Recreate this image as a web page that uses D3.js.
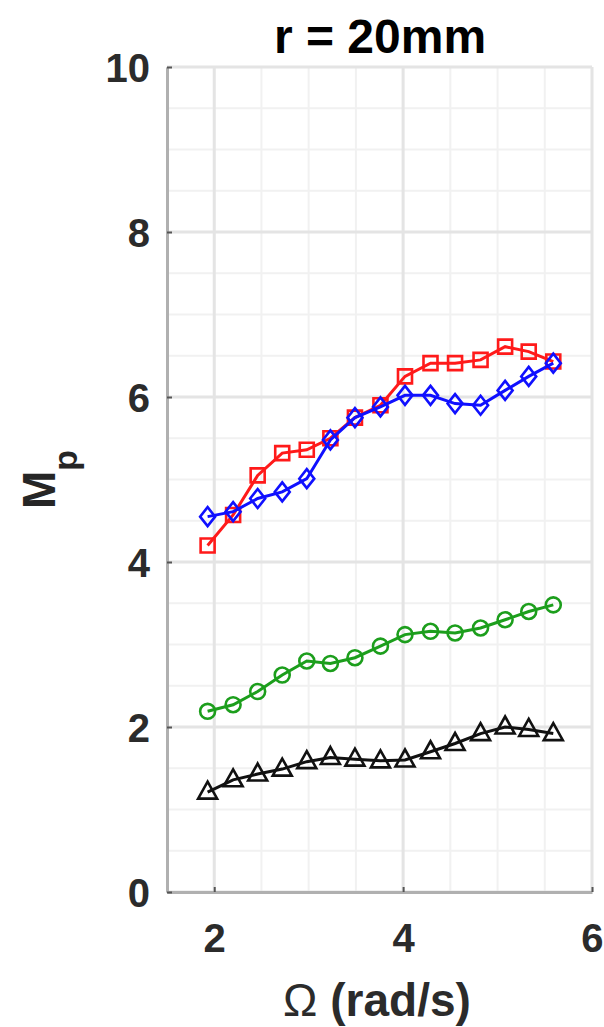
<!DOCTYPE html>
<html>
<head>
<meta charset="utf-8">
<script src="https://cdn.jsdelivr.net/npm/d3@7"></script>
<style>
  html, body { margin: 0; padding: 0; background: #fff; }
  text { font-family: "Liberation Sans", Arial, Helvetica, sans-serif; }
</style>
</head>
<body>
<div id="chart"></div>
<script>
// angular speed (rad/s), same for every series
const omega = [1.93, 2.20, 2.46, 2.72, 2.98, 3.23, 3.49, 3.76, 4.02, 4.29, 4.55, 4.82, 5.08, 5.33, 5.59];

const redSquares   = [4.20, 4.57, 5.05, 5.32, 5.36, 5.50, 5.75, 5.90, 6.25, 6.41, 6.41, 6.45, 6.61, 6.55, 6.43];
const blueDiamonds = [4.55, 4.61, 4.77, 4.85, 5.01, 5.48, 5.75, 5.88, 6.02, 6.02, 5.92, 5.90, 6.08, 6.25, 6.41];
const greenCircles = [2.19, 2.27, 2.43, 2.63, 2.80, 2.77, 2.84, 2.98, 3.12, 3.16, 3.14, 3.20, 3.30, 3.40, 3.48];
const blackTriangles = [1.21, 1.36, 1.43, 1.49, 1.58, 1.63, 1.61, 1.59, 1.60, 1.70, 1.80, 1.92, 2.00, 1.97, 1.92];

const xTicks = [2, 4, 6];
const yTicks = [0, 2, 4, 6, 8, 10];
const xMinor = [1.5, 2, 2.5, 3, 3.5, 4, 4.5, 5, 5.5, 6];
const yMinor = [0.5, 1, 1.5, 2, 2.5, 3, 3.5, 4, 4.5, 5, 5.5, 6, 6.5, 7, 7.5, 8, 8.5, 9, 9.5, 10];

const width = 604;
const height = 1027;
const plot = { left: 167, right: 592, top: 67, bottom: 892 };

const svg = d3.select('#chart')
  .append('svg')
  .attr('width', width)
  .attr('height', height);

const x = d3.scaleLinear().domain([1.5, 6]).range([plot.left, plot.right]);
const y = d3.scaleLinear().domain([0, 10]).range([plot.bottom, plot.top]);

// grid: minor first, major on top
const grid = svg.append('g');
grid.selectAll('.xminor')
  .data(xMinor)
  .join('line')
  .attr('x1', d => x(d)).attr('x2', d => x(d))
  .attr('y1', plot.top).attr('y2', plot.bottom)
  .attr('stroke', '#f1f1f1')
  .attr('stroke-width', 2);
grid.selectAll('.yminor')
  .data(yMinor)
  .join('line')
  .attr('y1', d => y(d)).attr('y2', d => y(d))
  .attr('x1', plot.left).attr('x2', plot.right)
  .attr('stroke', '#f1f1f1')
  .attr('stroke-width', 2);
grid.append('g').selectAll('line')
  .data(xTicks)
  .join('line')
  .attr('x1', d => x(d)).attr('x2', d => x(d))
  .attr('y1', plot.top).attr('y2', plot.bottom)
  .attr('stroke', '#e4e4e4')
  .attr('stroke-width', 3);
grid.append('g').selectAll('line')
  .data(yTicks)
  .join('line')
  .attr('y1', d => y(d)).attr('y2', d => y(d))
  .attr('x1', plot.left).attr('x2', plot.right)
  .attr('stroke', '#e4e4e4')
  .attr('stroke-width', 3);

// axes
const xAxis = svg.append('g')
  .attr('transform', `translate(0,${plot.bottom})`)
  .call(d3.axisBottom(x).tickValues(xTicks).tickFormat(d3.format('d'))
    .tickSize(-5).tickPadding(32).tickSizeOuter(0));
const yAxis = svg.append('g')
  .attr('transform', `translate(${plot.left},0)`)
  .call(d3.axisLeft(y).tickValues(yTicks).tickFormat(d3.format('d'))
    .tickSize(-5).tickPadding(17).tickSizeOuter(0));

[xAxis, yAxis].forEach(ax => {
  ax.select('.domain').attr('stroke', '#b0b0b0').attr('stroke-width', 3);
  ax.selectAll('.tick line').attr('stroke', '#555').attr('stroke-width', 2);
  ax.selectAll('.tick text')
    .attr('fill', '#2b2b2b')
    .attr('font-size', 40)
    .attr('font-weight', 'bold');
});
yAxis.selectAll('.tick text').attr('dy', '0.36em');
xAxis.selectAll('.tick text').attr('dy', '0.71em');
// the last x label sits on the right edge, keep it inside the page
xAxis.selectAll('.tick text').filter(d => d === 6).attr('text-anchor', 'end').attr('dx', 11);

// series
const series = [
  { values: redSquares, color: '#ff1a1a', marker: 'square' },
  { values: blueDiamonds, color: '#1010ff', marker: 'diamond' },
  { values: greenCircles, color: '#1c9e1c', marker: 'circle' },
  { values: blackTriangles, color: '#111111', marker: 'triangle' },
];

const markerPath = {
  square: 'M-7,-7H7V7H-7Z',
  diamond: 'M0,-9.5L7.5,0L0,9.5L-7.5,0Z',
  circle: d3.symbol().type(d3.symbolCircle).size(Math.PI * 56)(),
  triangle: 'M0,-10.5L9.5,6.5H-9.5Z',
};

const line = d3.line()
  .x((d, i) => x(omega[i]))
  .y(d => y(d));

const lines = svg.append('g');
series.forEach(s => {
  const g = lines.append('g');
  g.append('path')
    .datum(s.values)
    .attr('d', line)
    .attr('fill', 'none')
    .attr('stroke', s.color)
    .attr('stroke-width', 3);
  g.selectAll('path.m')
    .data(s.values)
    .join('path')
    .attr('class', 'm')
    .attr('d', markerPath[s.marker])
    .attr('transform', (d, i) => `translate(${x(omega[i])},${y(d)})`)
    .attr('fill', 'none')
    .attr('stroke', s.color)
    .attr('stroke-width', 2.6);
});

// title and labels
svg.append('text')
  .attr('x', 380)
  .attr('y', 53)
  .attr('text-anchor', 'middle')
  .attr('font-size', 48)
  .attr('font-weight', 'bold')
  .attr('fill', '#000')
  .text('r = 20mm');

const xlab = svg.append('text')
  .attr('x', 377)
  .attr('y', 1016)
  .attr('text-anchor', 'middle')
  .attr('font-size', 46)
  .attr('fill', '#2b2b2b');
xlab.append('tspan').attr('font-weight', 'normal').text('Ω ');
xlab.append('tspan').attr('font-weight', 'bold').text('(rad/s)');

const ylab = svg.append('text')
  .attr('transform', `translate(55,${(plot.top + plot.bottom) / 2}) rotate(-90)`)
  .attr('text-anchor', 'middle')
  .attr('font-weight', 'bold')
  .attr('fill', '#262626');
ylab.append('tspan').attr('font-size', 46).text('M');
ylab.append('tspan').attr('font-size', 34).attr('dy', 22).text('p');
</script>
</body>
</html>
